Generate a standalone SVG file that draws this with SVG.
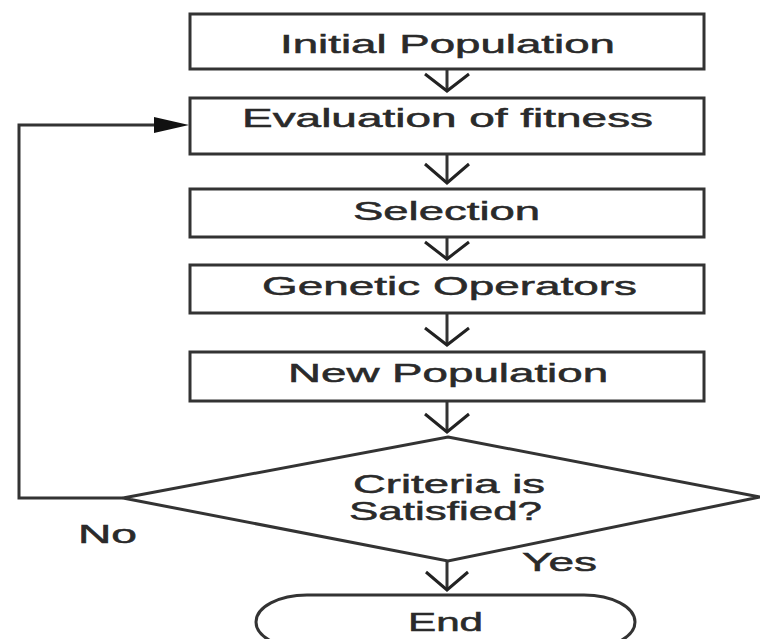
<svg xmlns="http://www.w3.org/2000/svg" width="760" height="639" viewBox="0 0 760 639">
  <defs>
    <style>
      .box { fill: #ffffff; stroke: #333333; stroke-width: 3; }
      .edge { fill: none; stroke: #333333; stroke-width: 3; }
      .head { fill: none; stroke: #222222; stroke-width: 3; stroke-linejoin: miter; }
      .lbl { font-family: "Liberation Sans", Arial, sans-serif; font-size: 25px; fill: #2a2a2a; stroke: #2a2a2a; stroke-width: 0.5; }
    </style>
  </defs>
  <rect width="760" height="639" fill="#ffffff"/>

  <!-- connectors -->
  <g id="connectors">
    <path class="edge" d="M447 69 V91"/>
    <path class="head" d="M425 74 L447 91 L469 74"/>
    <path class="edge" d="M447 154 V183"/>
    <path class="head" d="M425 164 L447 183 L469 164"/>
    <path class="edge" d="M447 237 V259"/>
    <path class="head" d="M425 242 L447 259 L469 242"/>
    <path class="edge" d="M447 313 V345"/>
    <path class="head" d="M425 328 L447 345 L469 328"/>
    <path class="edge" d="M447 401 V432"/>
    <path class="head" d="M425 414 L447 432 L469 414"/>
    <path class="edge" d="M447 561 V590"/>
    <path class="head" d="M426 572 L447 590 L468 572"/>
    <!-- "No" loop back to the fitness evaluation -->
    <path class="edge" d="M123 498 H19 V125 H158"/>
    <polygon points="154,117 189,125 154,133" fill="#111111"/>
  </g>

  <!-- labels use wide lettering: glyphs scaled 1.75x horizontally -->
  <g id="initial-population">
    <rect class="box" x="190" y="14" width="514" height="55"/>
    <text class="lbl" transform="translate(280 53) scale(1.75 1)" textLength="191.4" lengthAdjust="spacingAndGlyphs">Initial Population</text>
  </g>

  <g id="evaluation">
    <rect class="box" x="190" y="98" width="514" height="56"/>
    <text class="lbl" transform="translate(242 127) scale(1.75 1)" textLength="234.9" lengthAdjust="spacingAndGlyphs">Evaluation of fitness</text>
  </g>

  <g id="selection">
    <rect class="box" x="190" y="189" width="514" height="48"/>
    <text class="lbl" transform="translate(353 220) scale(1.75 1)" textLength="106.9" lengthAdjust="spacingAndGlyphs">Selection</text>
  </g>

  <g id="genetic-operators">
    <rect class="box" x="190" y="265" width="514" height="48"/>
    <text class="lbl" transform="translate(262 295) scale(1.75 1)" textLength="214.3" lengthAdjust="spacingAndGlyphs">Genetic Operators</text>
  </g>

  <g id="new-population">
    <rect class="box" x="190" y="352" width="514" height="49"/>
    <text class="lbl" transform="translate(288 382) scale(1.75 1)" textLength="182.9" lengthAdjust="spacingAndGlyphs">New Population</text>
  </g>

  <g id="criteria">
    <polygon class="box" points="448,437 760,497 448,561 123,498"/>
    <text class="lbl" transform="translate(353 493) scale(1.75 1)" textLength="109.7" lengthAdjust="spacingAndGlyphs">Criteria is</text>
    <text class="lbl" transform="translate(349 520) scale(1.75 1)" textLength="110.3" lengthAdjust="spacingAndGlyphs">Satisfied?</text>
  </g>

  <g id="label-no">
    <text class="lbl" transform="translate(78 543) scale(1.75 1)" textLength="33.7" lengthAdjust="spacingAndGlyphs">No</text>
  </g>

  <g id="label-yes">
    <text class="lbl" transform="translate(522 571) scale(1.75 1)" textLength="42.9" lengthAdjust="spacingAndGlyphs">Yes</text>
  </g>

  <g id="end">
    <path class="box" d="M307 595 H584 A51 27 0 0 1 584 649 H307 A51 27 0 0 1 307 595 Z"/>
    <text class="lbl" transform="translate(408 631) scale(1.75 1)" textLength="42.9" lengthAdjust="spacingAndGlyphs">End</text>
  </g>
</svg>
